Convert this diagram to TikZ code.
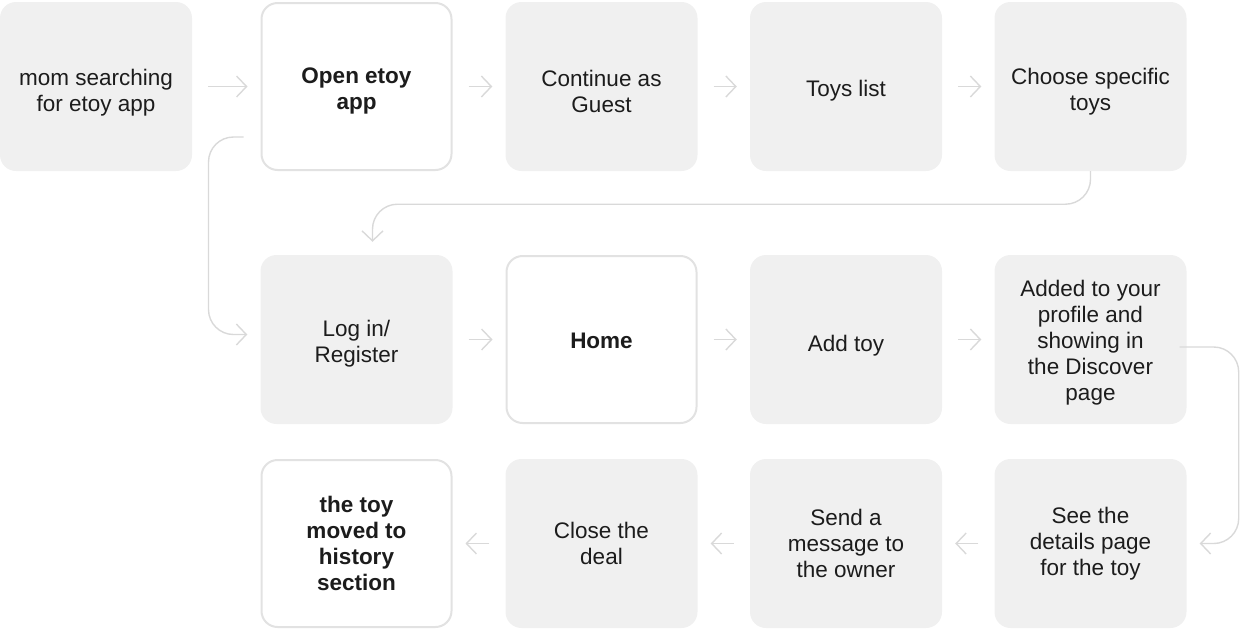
\documentclass[tikz,border=0pt]{standalone}
\usepackage{fontspec}
\setmainfont{Liberation Sans}
\usepackage{tikz}
\usetikzlibrary{arrows.meta,calc}
\definecolor{boxfill}{HTML}{F0F0F0}
\definecolor{boxline}{HTML}{E2E2E2}
\definecolor{flowgray}{HTML}{D9D9D9}
\definecolor{ink}{HTML}{1C1C1C}
% pushes a node's text down by #1 pt
\newcommand{\sinktext}[1]{\rule{0pt}{\dimexpr16.4pt+#1pt*2\relax}}
\tikzstyle{stage}=[rectangle, rounded corners=16pt, fill=boxfill, minimum width=192pt, minimum height=169pt, inner sep=0pt, align=center, text=ink, font=\fontsize{22.5}{26}\selectfont]
\tikzstyle{chosen} = [stage, fill=white, draw=boxline, line width=2pt, minimum width=190pt, minimum height=167pt, font=\fontsize{22.5}{26}\selectfont\bfseries]
\tikzstyle{flow} = [draw, line width=1.4pt, flowgray, -{Straight Barb[length=10pt,width=21pt]}, shorten <=16pt, shorten >=13pt]
\tikzstyle{loop} = [flow, rounded corners=25pt, shorten <=0pt]

\begin{document}
\begin{tikzpicture}[x=1pt, y=1pt]
	\useasboundingbox (0,0) rectangle (1240,-630);

	% first row
	\node[stage] (search) at (96,-86.5) {\sinktext{6}mom searching\\for etoy app};
	\node[chosen] (open) at (356.5,-86.5) {\sinktext{4}Open etoy\\app};
	\node[stage] (guest) at (601.5,-86.5) {\sinktext{4.7}Continue as\\Guest};
	\node[stage] (toys) at (846,-86.5) {\sinktext{4}Toys list};
	\node[stage] (choose) at (1090.5,-86.5) {\sinktext{5}Choose specific\\toys};

	% second row
	\node[stage] (login) at (356.5,-339.5) {\sinktext{4}Log in/\\Register};
	\node[chosen] (home) at (601.5,-339.5) {\sinktext{0.7}Home};
	\node[stage] (addtoy) at (846,-339.5) {\sinktext{6}Add toy};
	\node[stage] (added) at (1090.5,-339.5) {\sinktext{3.5}Added to your\\profile and\\showing in\\the Discover\\page};

	% third row
	\node[chosen] (history) at (356.5,-543.5) {the toy\\moved to\\history\\section};
	\node[stage] (deal) at (601.5,-543.5) {Close the\\deal};
	\node[stage] (message) at (846,-543.5) {Send a\\message to\\the owner};
	\node[stage] (details) at (1090.5,-543.5) {See the\\details page\\for the toy};

	\foreach \source/\dest in {search/open, open/guest, guest/toys, toys/choose, login/home, home/addtoy, addtoy/added, details/message, message/deal, deal/history}{
		\draw[flow] (\source) -- (\dest);
	}

	% turns between the rows
	\coordinate (skip) at ($(open.south west)+(-17,34)$);
	\draw[loop] (skip) -- ++(-35,0) |- ([yshift=5pt]login.west);
	\draw[loop] (choose.south) -- ++(0,-33) -| ([xshift=16pt]login.north);
	\draw[loop] ([xshift=-7pt,yshift=-7.5pt]added.east) -- ++(59,0) |- (details.east);
\end{tikzpicture}
\end{document}
